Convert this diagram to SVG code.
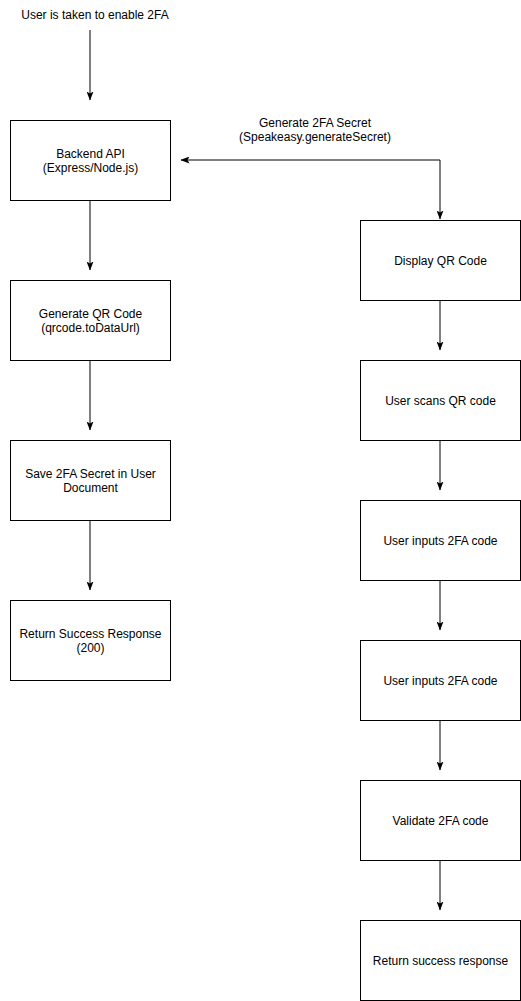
<svg xmlns="http://www.w3.org/2000/svg" width="521" height="1001" viewBox="0 0 521 1001">
<style>
.box{fill:#fff;stroke:#000;stroke-width:1}
.t{font-family:"Liberation Sans",Arial,Helvetica,sans-serif;font-size:12px;fill:#000;text-anchor:middle}
.e{fill:none;stroke:#000;stroke-width:1;marker-end:url(#arr)}
</style>
<defs>
<marker id="arr" markerUnits="userSpaceOnUse" viewBox="0 0 9 7" refX="8.5" refY="3.5" markerWidth="9" markerHeight="7" orient="auto">
<path d="M0,0 L9,3.5 L0,7 L2,3.5 Z" fill="#000"/>
</marker>
</defs>
<rect width="521" height="1001" fill="#fff"/>
<g id="connectors">
<path class="e" d="M90,30 V100"/>
<path class="e" d="M90,200.5 V270"/>
<path class="e" d="M90,360.5 V430"/>
<path class="e" d="M90,520.5 V590"/>
<path class="e" d="M440,160 H181"/>
<path class="e" d="M440,160 V219"/>
<path class="e" d="M440,300.5 V350"/>
<path class="e" d="M440,440.5 V490"/>
<path class="e" d="M440,580.5 V630"/>
<path class="e" d="M440,720.5 V770"/>
<path class="e" d="M440,860.5 V910"/>
<text class="t" x="315" y="127">Generate 2FA Secret</text>
<text class="t" x="315" y="141">(Speakeasy.generateSecret)</text>
</g>
<g id="start"><text class="t" x="95" y="19">User is taken to enable 2FA</text></g>
<g id="backend"><rect class="box" x="10.5" y="120.5" width="160" height="80"/><text class="t" x="90.5" y="158">Backend API</text><text class="t" x="90.5" y="172">(Express/Node.js)</text></g>
<g id="genqr"><rect class="box" x="10.5" y="280.5" width="160" height="80"/><text class="t" x="90.5" y="318">Generate QR Code</text><text class="t" x="90.5" y="332">(qrcode.toDataUrl)</text></g>
<g id="save"><rect class="box" x="10.5" y="440.5" width="160" height="80"/><text class="t" x="90.5" y="478">Save 2FA Secret in User</text><text class="t" x="90.5" y="492">Document</text></g>
<g id="ret200"><rect class="box" x="10.5" y="600.5" width="160" height="80"/><text class="t" x="90.5" y="638">Return Success Response</text><text class="t" x="90.5" y="652">(200)</text></g>
<g id="display"><rect class="box" x="360.5" y="220.5" width="160" height="80"/><text class="t" x="440.5" y="265">Display QR Code</text></g>
<g id="scan"><rect class="box" x="360.5" y="360.5" width="160" height="80"/><text class="t" x="440.5" y="405">User scans QR code</text></g>
<g id="input1"><rect class="box" x="360.5" y="500.5" width="160" height="80"/><text class="t" x="440.5" y="545">User inputs 2FA code</text></g>
<g id="input2"><rect class="box" x="360.5" y="640.5" width="160" height="80"/><text class="t" x="440.5" y="685">User inputs 2FA code</text></g>
<g id="validate"><rect class="box" x="360.5" y="780.5" width="160" height="80"/><text class="t" x="440.5" y="825">Validate 2FA code</text></g>
<g id="retsuccess"><rect class="box" x="360.5" y="920.5" width="160" height="80"/><text class="t" x="440.5" y="965">Return success response</text></g>
</svg>
